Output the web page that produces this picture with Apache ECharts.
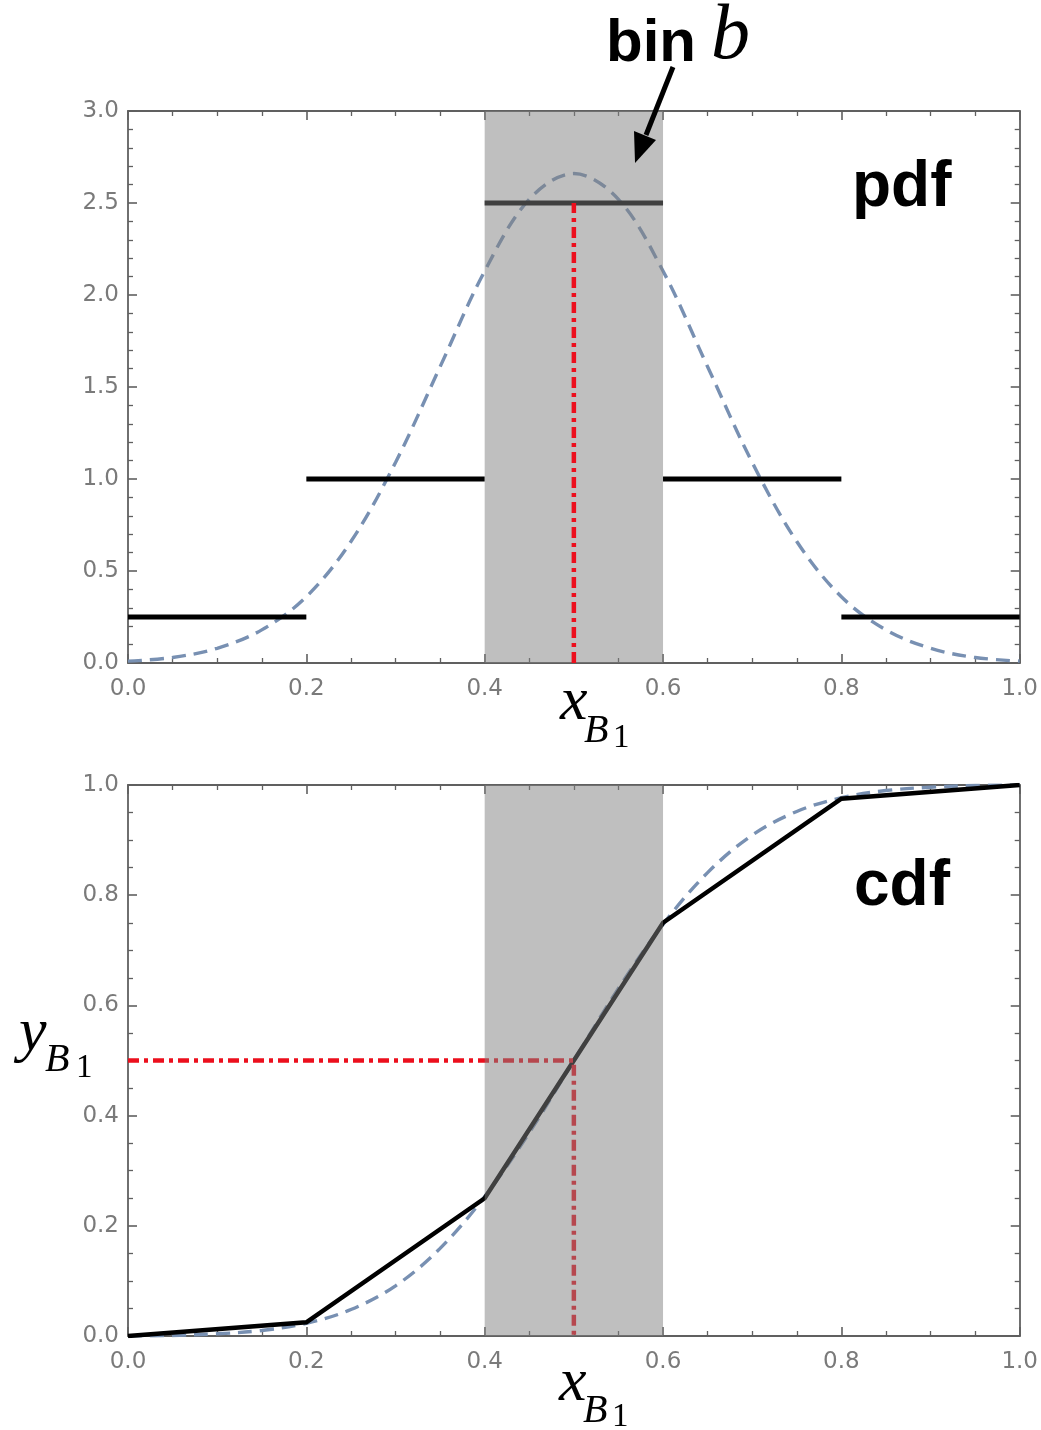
<!DOCTYPE html>
<html>
<head>
<meta charset="utf-8">
<script src="https://cdn.jsdelivr.net/npm/echarts@6/dist/echarts.min.js"></script>
<style>
  html, body { margin: 0; padding: 0; background: #ffffff; }
  #chart { width: 1041px; height: 1430px; }
</style>
</head>
<body>
<div id="chart"></div>
<script>
// Sample positions for the smooth reference curves
const curveX = [0, 0.05, 0.1, 0.15, 0.2, 0.25, 0.3, 0.35, 0.4, 0.45, 0.5,
                0.55, 0.6, 0.65, 0.7, 0.75, 0.8, 0.85, 0.9, 0.95, 1.0];
// Smooth density (dashed)
const pdfCurve = [0.01, 0.03, 0.08, 0.18, 0.36, 0.66, 1.09, 1.61, 2.13, 2.52, 2.66,
                  2.52, 2.13, 1.61, 1.09, 0.66, 0.36, 0.18, 0.08, 0.03, 0.01];
// Smooth cumulative (dashed)
const cdfCurve = [0.0, 0.001, 0.004, 0.010, 0.023, 0.048, 0.091, 0.159, 0.253, 0.369, 0.5,
                  0.631, 0.747, 0.841, 0.909, 0.952, 0.977, 0.990, 0.996, 0.999, 1.0];

// Histogram bins
const binEdges = [0, 0.2, 0.4, 0.6, 0.8, 1.0];
const binHeights = [0.25, 1.0, 2.5, 1.0, 0.25];
// Piecewise-linear cumulative at the bin edges
const cdfAtEdges = [0, 0.025, 0.25, 0.75, 0.975, 1.0];

// Highlighted bin and the sampled point
const highlightBin = [0.4, 0.6];
const sampleX = 0.5;
const sampleY = 0.5;

// Tick labels
const pdfYTicks = ['0.0', '0.5', '1.0', '1.5', '2.0', '2.5', '3.0'];
const cdfYTicks = ['0.0', '0.2', '0.4', '0.6', '0.8', '1.0'];
const xTicks = ['0.0', '0.2', '0.4', '0.6', '0.8', '1.0'];

const chart = echarts.init(document.getElementById('chart'), null, { renderer: 'canvas' });

const frameColor = '#606060';
const labelColor = '#7a7a7a';
const tickFont = 'DejaVu Sans';

function pairs(xs, ys) { return xs.map((x, i) => [x, ys[i]]); }

function xAxisFor(gridIndex, position, showLabels) {
  return {
    type: 'value', gridIndex, position, min: 0, max: 1, interval: 0.2,
    axisLine: { show: true, onZero: false, lineStyle: { color: frameColor, width: 1.8 } },
    axisTick: { show: true, inside: true, length: 9, lineStyle: { color: frameColor, width: 1.6 } },
    minorTick: { show: true, splitNumber: 4, length: 5, lineStyle: { color: frameColor, width: 1.3 } },
    splitLine: { show: false },
    axisLabel: {
      show: showLabels, margin: 15, color: labelColor, fontFamily: tickFont, fontSize: 23,
      formatter: v => xTicks[Math.round(v / 0.2)]
    }
  };
}

function yAxisFor(gridIndex, position, max, interval, minorSplit, ticks, showLabels) {
  return {
    type: 'value', gridIndex, position, min: 0, max, interval,
    axisLine: { show: true, onZero: false, lineStyle: { color: frameColor, width: 1.8 } },
    axisTick: { show: true, inside: true, length: 9, lineStyle: { color: frameColor, width: 1.6 } },
    minorTick: { show: true, splitNumber: minorSplit, length: 5, lineStyle: { color: frameColor, width: 1.3 } },
    splitLine: { show: false },
    axisLabel: {
      show: showLabels, margin: 9, color: labelColor, fontFamily: tickFont, fontSize: 23,
      formatter: v => ticks[Math.round(v / interval)]
    }
  };
}

// Semi-transparent band covering the highlighted bin
function bandSeries(xIdx, yIdx, z) {
  return {
    type: 'custom', xAxisIndex: xIdx, yAxisIndex: yIdx, z, silent: true,
    data: [highlightBin],
    renderItem: (params, api) => {
      const cs = params.coordSys;
      const x0 = api.coord([api.value(0), 0])[0];
      const x1 = api.coord([api.value(1), 0])[0];
      return {
        type: 'rect',
        shape: { x: x0, y: cs.y, width: x1 - x0, height: cs.height },
        style: { fill: 'rgba(128,128,128,0.5)' }
      };
    }
  };
}

const dashedCurveStyle = { color: '#7890b2', width: 3.4, type: [14, 8] };
const redDashDot = { color: '#ec0f1d', width: 4.5, type: [11, 5, 4, 5] };

const series = [];

// ---- Upper panel: density ----
series.push({
  type: 'line', xAxisIndex: 0, yAxisIndex: 0, z: 2, silent: true,
  data: pairs(curveX, pdfCurve), smooth: 0.35, showSymbol: false,
  lineStyle: dashedCurveStyle
});
binHeights.forEach((h, i) => {
  series.push({
    type: 'line', xAxisIndex: 0, yAxisIndex: 0, z: 3, silent: true,
    data: [[binEdges[i], h], [binEdges[i + 1], h]], showSymbol: false,
    lineStyle: { color: '#000000', width: 5, cap: 'butt' }
  });
});
series.push(bandSeries(0, 0, 5));
series.push({
  type: 'line', xAxisIndex: 0, yAxisIndex: 0, z: 6, silent: true,
  data: [[sampleX, 0], [sampleX, binHeights[2]]], showSymbol: false,
  lineStyle: redDashDot
});

// ---- Lower panel: cumulative ----
series.push({
  type: 'line', xAxisIndex: 2, yAxisIndex: 2, z: 2, silent: true,
  data: pairs(curveX, cdfCurve), smooth: 0.35, showSymbol: false,
  lineStyle: dashedCurveStyle
});
series.push({
  type: 'line', xAxisIndex: 2, yAxisIndex: 2, z: 3, silent: true,
  data: pairs(binEdges, cdfAtEdges), showSymbol: false,
  lineStyle: { color: '#000000', width: 4.5, join: 'miter' }
});
series.push({
  type: 'line', xAxisIndex: 2, yAxisIndex: 2, z: 3, silent: true,
  data: [[0, sampleY], [sampleX, sampleY], [sampleX, 0]], showSymbol: false,
  lineStyle: redDashDot
});
series.push(bandSeries(2, 2, 5));

function txt(text, x, y, font, size, style) {
  return {
    type: 'text', x, y, z: 20, silent: true,
    style: {
      text, fill: '#000000', align: 'left', verticalAlign: 'middle',
      fontFamily: font, fontSize: size, fontWeight: style === 'bold' ? 'bold' : 'normal',
      fontStyle: style === 'italic' ? 'italic' : 'normal'
    }
  };
}

const serif = 'Liberation Serif';
const sans = 'Liberation Sans';

const graphic = [
  // bin label with arrow
  txt('bin', 606, 44, sans, 60, 'bold'),
  txt('b', 711, 37, serif, 78, 'italic'),
  { type: 'line', z: 20, silent: true, shape: { x1: 673, y1: 67, x2: 646, y2: 135 },
    style: { stroke: '#000000', lineWidth: 5 } },
  { type: 'polygon', z: 20, silent: true,
    shape: { points: [[635, 163], [656, 140], [634, 131]] },
    style: { fill: '#000000' } },
  // panel names
  txt('pdf', 852, 188, sans, 64, 'bold'),
  txt('cdf', 854, 887, sans, 64, 'bold'),
  // x_{B_1} under the upper panel
  txt('x', 560, 703, serif, 62, 'italic'),
  txt('B', 584, 731, serif, 40, 'italic'),
  txt('1', 613, 738, serif, 33, 'normal'),
  // x_{B_1} under the lower panel
  txt('x', 559, 1384, serif, 62, 'italic'),
  txt('B', 583, 1411, serif, 40, 'italic'),
  txt('1', 612, 1417, serif, 33, 'normal'),
  // y_{B_1} beside the lower panel
  txt('y', 19, 1034, serif, 62, 'italic'),
  txt('B', 45, 1060, serif, 40, 'italic'),
  txt('1', 76, 1068, serif, 33, 'normal')
];

chart.setOption({
  animation: false,
  backgroundColor: '#ffffff',
  grid: [
    { left: 128, right: 19, top: 111, height: 552 },
    { left: 128, right: 19, top: 785, height: 551 }
  ],
  xAxis: [
    xAxisFor(0, 'bottom', true),
    xAxisFor(0, 'top', false),
    xAxisFor(1, 'bottom', true),
    xAxisFor(1, 'top', false)
  ],
  yAxis: [
    yAxisFor(0, 'left', 3, 0.5, 5, pdfYTicks, true),
    yAxisFor(0, 'right', 3, 0.5, 5, pdfYTicks, false),
    yAxisFor(1, 'left', 1, 0.2, 4, cdfYTicks, true),
    yAxisFor(1, 'right', 1, 0.2, 4, cdfYTicks, false)
  ],
  series,
  graphic
});
</script>
</body>
</html>
